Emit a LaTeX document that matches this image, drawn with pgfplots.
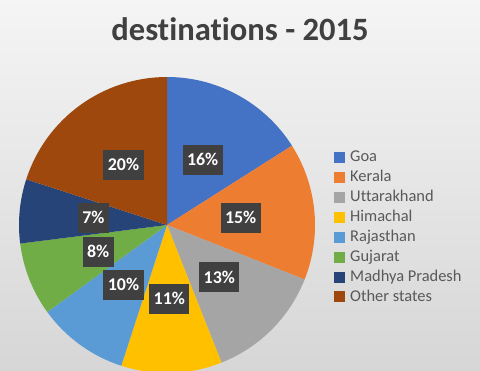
\documentclass[border=0pt]{standalone}
\usepackage{pgfplots}
\pgfplotsset{compat=1.18}
\usepackage{pgfplotstable}
\usepackage{fontspec}
\setmainfont{Carlito}[Ligatures=NoCommon]
\definecolor{c0}{HTML}{4472C4}
\definecolor{c1}{HTML}{ED7D31}
\definecolor{c2}{HTML}{A5A5A5}
\definecolor{c3}{HTML}{FFC000}
\definecolor{c4}{HTML}{5B9BD5}
\definecolor{c5}{HTML}{70AD47}
\definecolor{c6}{HTML}{264478}
\definecolor{c7}{HTML}{9E480E}
\definecolor{tgray}{HTML}{404040}
\definecolor{lgray}{HTML}{595959}
\definecolor{boxgray}{HTML}{404040}
\pgfplotstableread{
name v
Goa 16
Kerala 15
Uttarakhand 13
Himachal 11
Rajasthan 10
Gujarat 8
MadhyaPradesh 7
Other 20
}\data
\begin{document}
\begin{tikzpicture}
\begin{axis}[
  width=480bp, height=370bp, scale only axis,
  xmin=0, xmax=480, ymin=0, ymax=370,
  hide axis,
  legend style={at={(axis cs:334,220)}, anchor=north west, draw=none, fill=none,
    font=\fontsize{16.5}{19}\selectfont, text=lgray, inner sep=0pt, row sep=5.0bp,
    column sep=5bp,
    nodes={inner sep=0pt, text height=11.5bp, text depth=3.4bp}},
  legend cell align=left,
  legend image code/.code={\fill[#1,draw=none] (0bp,-5.5bp) rectangle (11bp,5.5bp);},
]
\fill[top color=white!96!black, bottom color=white!84!black] (axis cs:0,0) rectangle (axis cs:480,370);
\def\cum{90}
\pgfplotsforeachungrouped \i in {0,...,7}{%
  \pgfplotstablegetelem{\i}{v}\of\data \let\val\pgfplotsretval
  \pgfmathsetmacro\ang{360*\val/100}%
  \pgfmathsetmacro\endang{\cum-\ang}%
  \edef\cmd{\noexpand\fill[c\i] (axis cs:167,145) -- ++(\cum:148bp) arc[start angle=\cum, end angle=\endang, radius=148bp] -- cycle;}%
  \cmd
  \let\cum\endang
}
\def\cum{90}
\pgfplotsforeachungrouped \i in {0,...,7}{%
  \pgfplotstablegetelem{\i}{v}\of\data \let\val\pgfplotsretval
  \pgfmathsetmacro\ang{360*\val/100}%
  \pgfmathsetmacro\endang{\cum-\ang}%
  \pgfmathsetmacro\midang{\cum-\ang/2}%
  \edef\cmd{\noexpand\path (axis cs:167,145) ++(\midang:74bp) node[fill=boxgray, text=white, font=\noexpand\bfseries\noexpand\fontsize{18}{21}\noexpand\selectfont, inner xsep=4.5bp, inner ysep=0pt, minimum height=30bp, text height=12bp, text depth=0.5bp] {\val\noexpand\%};}%
  \cmd
  \let\cum\endang
}
\node[anchor=base, font=\bfseries\fontsize{32.7}{38}\selectfont, text=tgray] at (axis cs:240,330) {destinations - 2015};
\addlegendimage{fill=c0}\addlegendentry{Goa}
\addlegendimage{fill=c1}\addlegendentry{Kerala}
\addlegendimage{fill=c2}\addlegendentry{Uttarakhand}
\addlegendimage{fill=c3}\addlegendentry{Himachal}
\addlegendimage{fill=c4}\addlegendentry{Rajasthan}
\addlegendimage{fill=c5}\addlegendentry{Gujarat}
\addlegendimage{fill=c6}\addlegendentry{Madhya Pradesh}
\addlegendimage{fill=c7}\addlegendentry{Other states}
\end{axis}
\end{tikzpicture}
\end{document}
